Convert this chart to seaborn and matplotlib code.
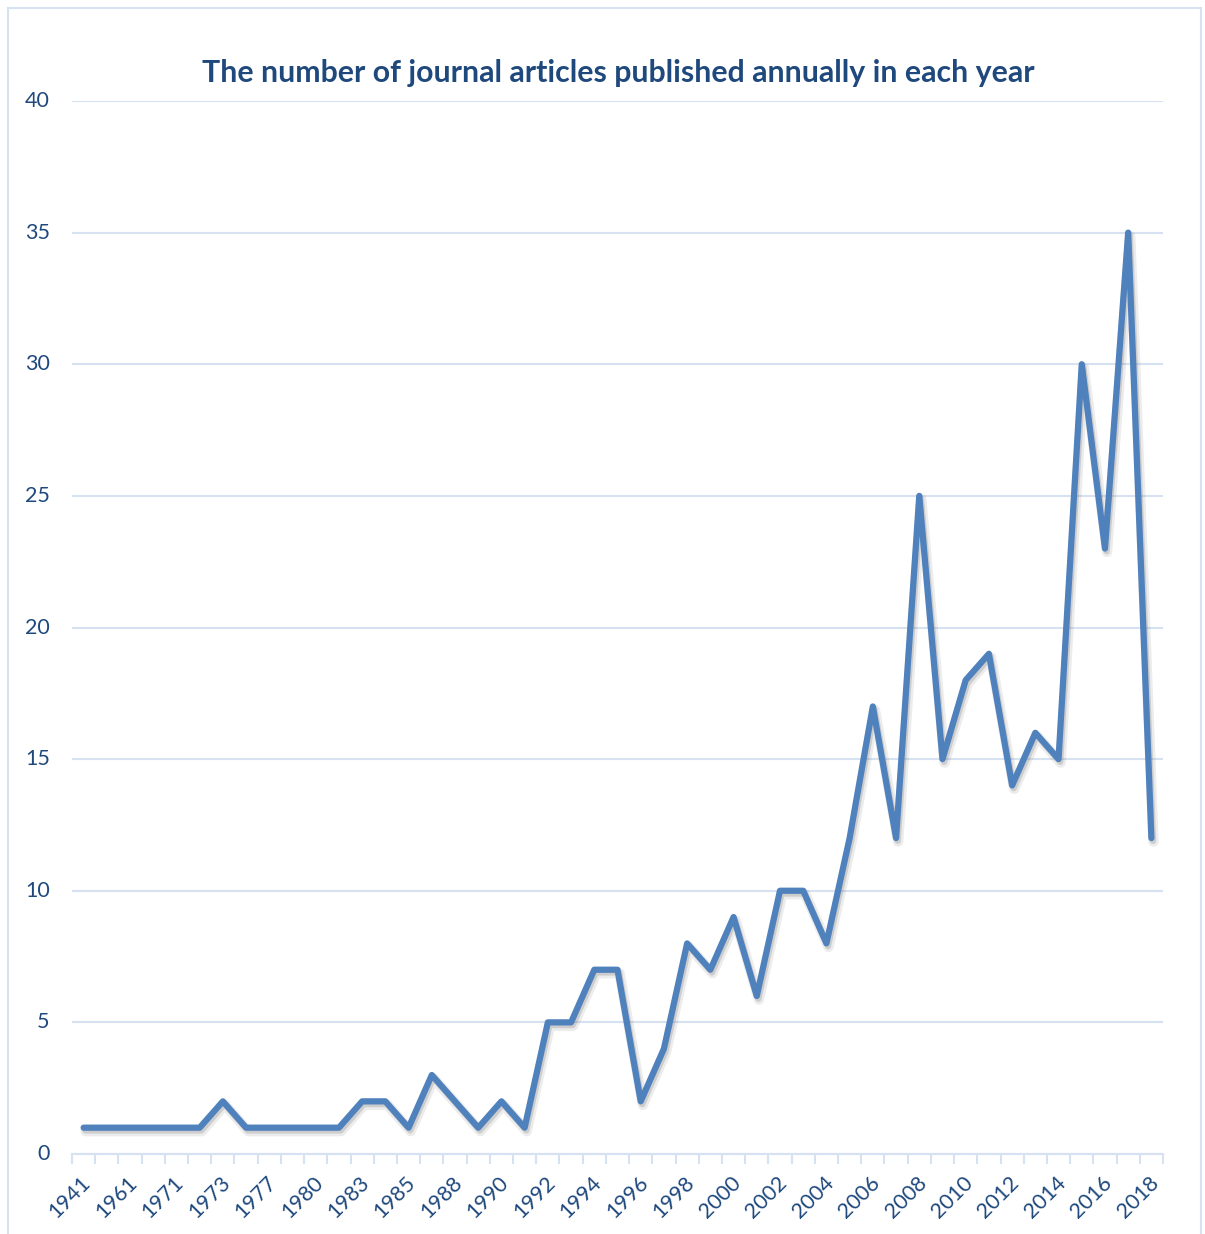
import matplotlib
matplotlib.use("Agg")
import matplotlib.pyplot as plt
import matplotlib.patheffects as pe
import matplotlib.transforms as mtrans
from matplotlib.patches import Rectangle
from matplotlib.ticker import FixedLocator, NullFormatter
import seaborn as sns
import pandas as pd

years = ["1941", "1951", "1961", "1965", "1971", "1972", "1973", "1975", "1977", "1978",
         "1980", "1981", "1983", "1984", "1985", "1986", "1988", "1989", "1990", "1991",
         "1992", "1993", "1994", "1995", "1996", "1997", "1998", "1999", "2000", "2001",
         "2002", "2003", "2004", "2005", "2006", "2007", "2008", "2009", "2010", "2011",
         "2012", "2013", "2014", "2015", "2016", "2017", "2018"]
articles = [1, 1, 1, 1, 1, 1, 2, 1, 1, 1,
            1, 1, 2, 2, 1, 3, 2, 1, 2, 1,
            5, 5, 7, 7, 2, 4, 8, 7, 9, 6,
            10, 10, 8, 12, 17, 12, 25, 15, 18, 19,
            14, 16, 15, 30, 23, 35, 12]
title = "The number of journal articles published annually in each year"
y_ticks = [0, 5, 10, 15, 20, 25, 30, 35, 40]

df = pd.DataFrame({"pos": range(len(years)), "year": years, "count": articles})

sns.set_theme(style="white")
plt.rcParams["font.family"] = ["Lato", "DejaVu Sans"]

W, H = 1205, 1234
fig = plt.figure(figsize=(W / 100, H / 100), dpi=100)
ax = fig.add_axes([72 / W, (H - 1154) / H, (1163 - 72) / W, (1154 - 101) / H])

line_color = "#4F81BD"
text_color = "#1F497D"
grid_color = "#D6E1F2"

sns.lineplot(data=df, x="pos", y="count", ax=ax, color=line_color, linewidth=4.5,
             sort=False, solid_joinstyle="round", solid_capstyle="round")
ax.lines[0].set_path_effects([
    pe.SimpleLineShadow(offset=(1.5, -2.5), shadow_color="#666666", alpha=0.12, linewidth=7.5),
    pe.SimpleLineShadow(offset=(1.2, -2), shadow_color="#555555", alpha=0.2),
    pe.Normal(),
])

n = len(years)
ax.set_xlim(-0.5, n - 0.5)
ax.set_ylim(0, 40)
ax.set_yticks(y_ticks)
ax.yaxis.grid(True, color=grid_color, linewidth=1.5)
ax.set_axisbelow(True)

ax.set_xticks(list(range(0, n, 2)))
ax.set_xticklabels(years[::2], rotation=45, ha="right", rotation_mode="anchor")
ax.xaxis.set_minor_locator(FixedLocator([i - 0.5 for i in range(n + 1)]))
ax.xaxis.set_minor_formatter(NullFormatter())
ax.tick_params(axis="x", which="major", length=0, pad=7, labelsize=15.5, labelcolor=text_color)
ax.tick_params(axis="x", which="minor", bottom=True, length=7, width=1.5, color=grid_color)
ax.tick_params(axis="y", length=0, pad=16, labelsize=15.5, labelcolor=text_color)
for lbl in ax.get_yticklabels():
    lbl.set_horizontalalignment("right")

xshift = mtrans.ScaledTranslation(-0.03, -0.09, fig.dpi_scale_trans)
for lbl in ax.get_xticklabels():
    lbl.set_transform(lbl.get_transform() + xshift)
yshift = mtrans.ScaledTranslation(0, 0.02, fig.dpi_scale_trans)
for lbl in ax.get_yticklabels():
    lbl.set_transform(lbl.get_transform() + yshift)

for s in ["top", "right", "left"]:
    ax.spines[s].set_visible(False)
ax.spines["bottom"].set_color(grid_color)
ax.spines["bottom"].set_linewidth(1.5)

ax.set_xlabel("")
ax.set_ylabel("")

fig.text(618 / W, 1 - 73 / H, title, ha="center", va="center",
         fontsize=21.8, fontweight="bold", color=text_color)

fig.patches.append(Rectangle((8 / W, -0.01), (1201 - 8) / W, 1.01 - 8 / H,
                             transform=fig.transFigure, fill=False,
                             edgecolor="#D6E1F2", linewidth=1.5))

fig.savefig("out.png", dpi=100)
